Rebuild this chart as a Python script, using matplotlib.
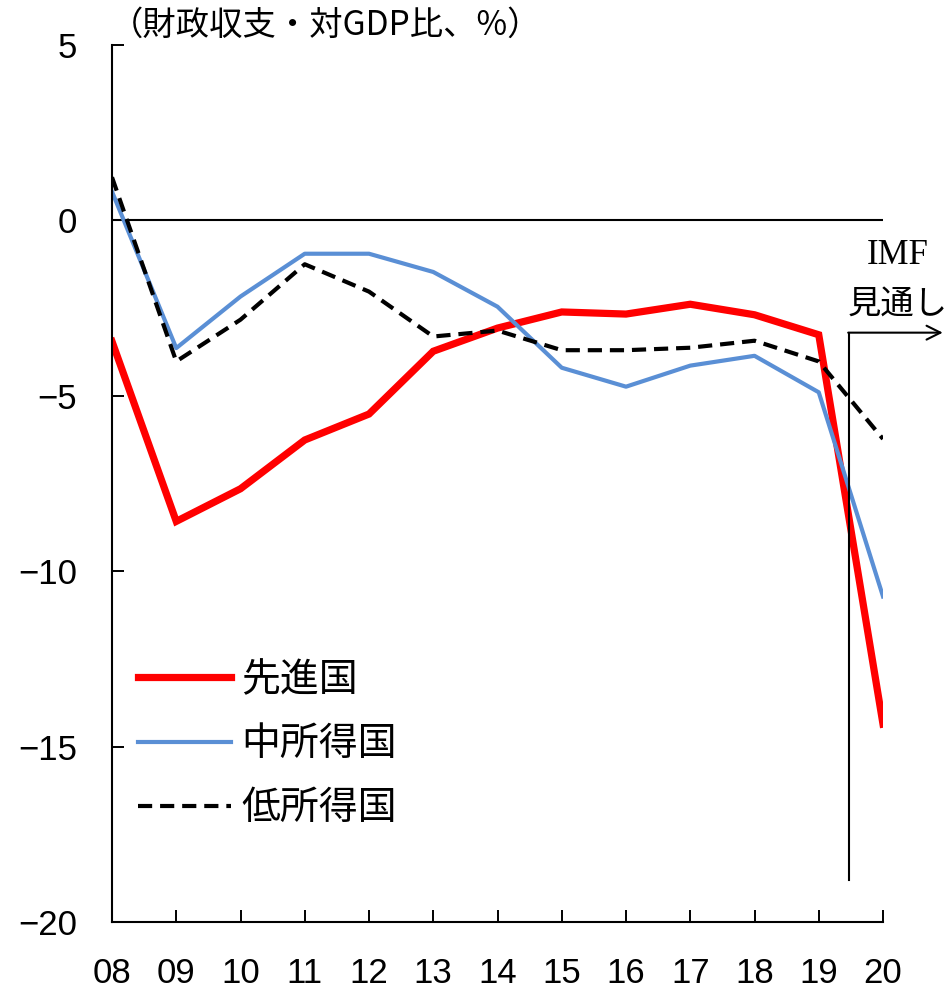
import numpy as np
import matplotlib
matplotlib.use('Agg')
import matplotlib.pyplot as plt

plt.rcParams['font.family'] = ['Noto Sans CJK JP', 'DejaVu Sans']

years = ['08', '09', '10', '11', '12', '13', '14', '15', '16', '17', '18', '19', '20']
advanced = [-3.45, -8.58, -7.65, -6.26, -5.52, -3.73, -3.07, -2.61, -2.67, -2.39, -2.69, -3.26, -14.36]
middle = [0.82, -3.64, -2.17, -0.95, -0.95, -1.47, -2.46, -4.20, -4.74, -4.14, -3.86, -4.90, -10.72]
low = [1.23, -4.02, -2.83, -1.25, -2.03, -3.31, -3.14, -3.70, -3.70, -3.63, -3.43, -4.02, -6.23]
yticks = [5, 0, -5, -10, -15, -20]

num_font = ['Liberation Sans Narrow', 'Liberation Sans', 'DejaVu Sans']

fig = plt.figure(figsize=(9.49, 9.9), dpi=100)
ax = fig.add_axes([112 / 949, 1 - 922 / 990, (883 - 112) / 949, (922 - 45) / 990])

x = np.arange(len(years))
ax.plot(x, advanced, color='#ff0000', lw=5.2, label='先進国', solid_joinstyle='miter')
ax.plot(x, middle, color='#5a8fd5', lw=3, label='中所得国')
ax.plot(x, low, color='black', lw=3, ls=(0, (3.4, 1.9)), label='低所得国')

ax.axhline(0, color='black', lw=1.5, zorder=1)

ax.set_xlim(0, len(years) - 1)
ax.set_ylim(-20, 5)
ax.set_xticks(x)
ax.set_xticklabels(years)
ax.set_yticks(yticks)
ax.set_yticklabels([str(v).replace('-', '\u2212') for v in yticks])
for lab in ax.get_xticklabels() + ax.get_yticklabels():
    lab.set_family(num_font)
    lab.set_fontsize(25)

ax.tick_params(axis='both', direction='in', length=8.5, width=1.4, color='black')
ax.tick_params(axis='x', pad=25)
ax.tick_params(axis='y', pad=25)
ax.spines['top'].set_visible(False)
ax.spines['right'].set_visible(False)
ax.spines['left'].set_linewidth(1.5)
ax.spines['bottom'].set_linewidth(1.5)

# forecast marker
fx = 11.47
ax.plot([fx, fx], [-18.8, -3.2], color='black', lw=1.5, clip_on=False)
ax.annotate('', xy=(12.93, -3.2), xytext=(fx - 0.012, -3.2),
            arrowprops=dict(arrowstyle='->,head_length=1.0,head_width=0.5', lw=1.5, color='black',
                            shrinkA=0, shrinkB=0),
            annotation_clip=False)
ax.text(12.23, -1.0, 'IMF', family=['Liberation Serif', 'DejaVu Serif'], fontsize=25,
        ha='center', va='center')
ax.text(12.23, -2.4, '見通し', fontsize=24, ha='center', va='center')

fig.text(110 / 949, 1 - 25 / 990, '（財政収支・対GDP比、%）', fontsize=24, ha='left', va='center')

leg = ax.legend(loc='upper left', bbox_to_anchor=(26 / 771, 1 - (660 - 45) / 877),
                frameon=False, fontsize=28, handlelength=2.4, handletextpad=0.25,
                labelspacing=0.62, borderpad=0, borderaxespad=0)

fig.savefig('out.png', dpi=100)
